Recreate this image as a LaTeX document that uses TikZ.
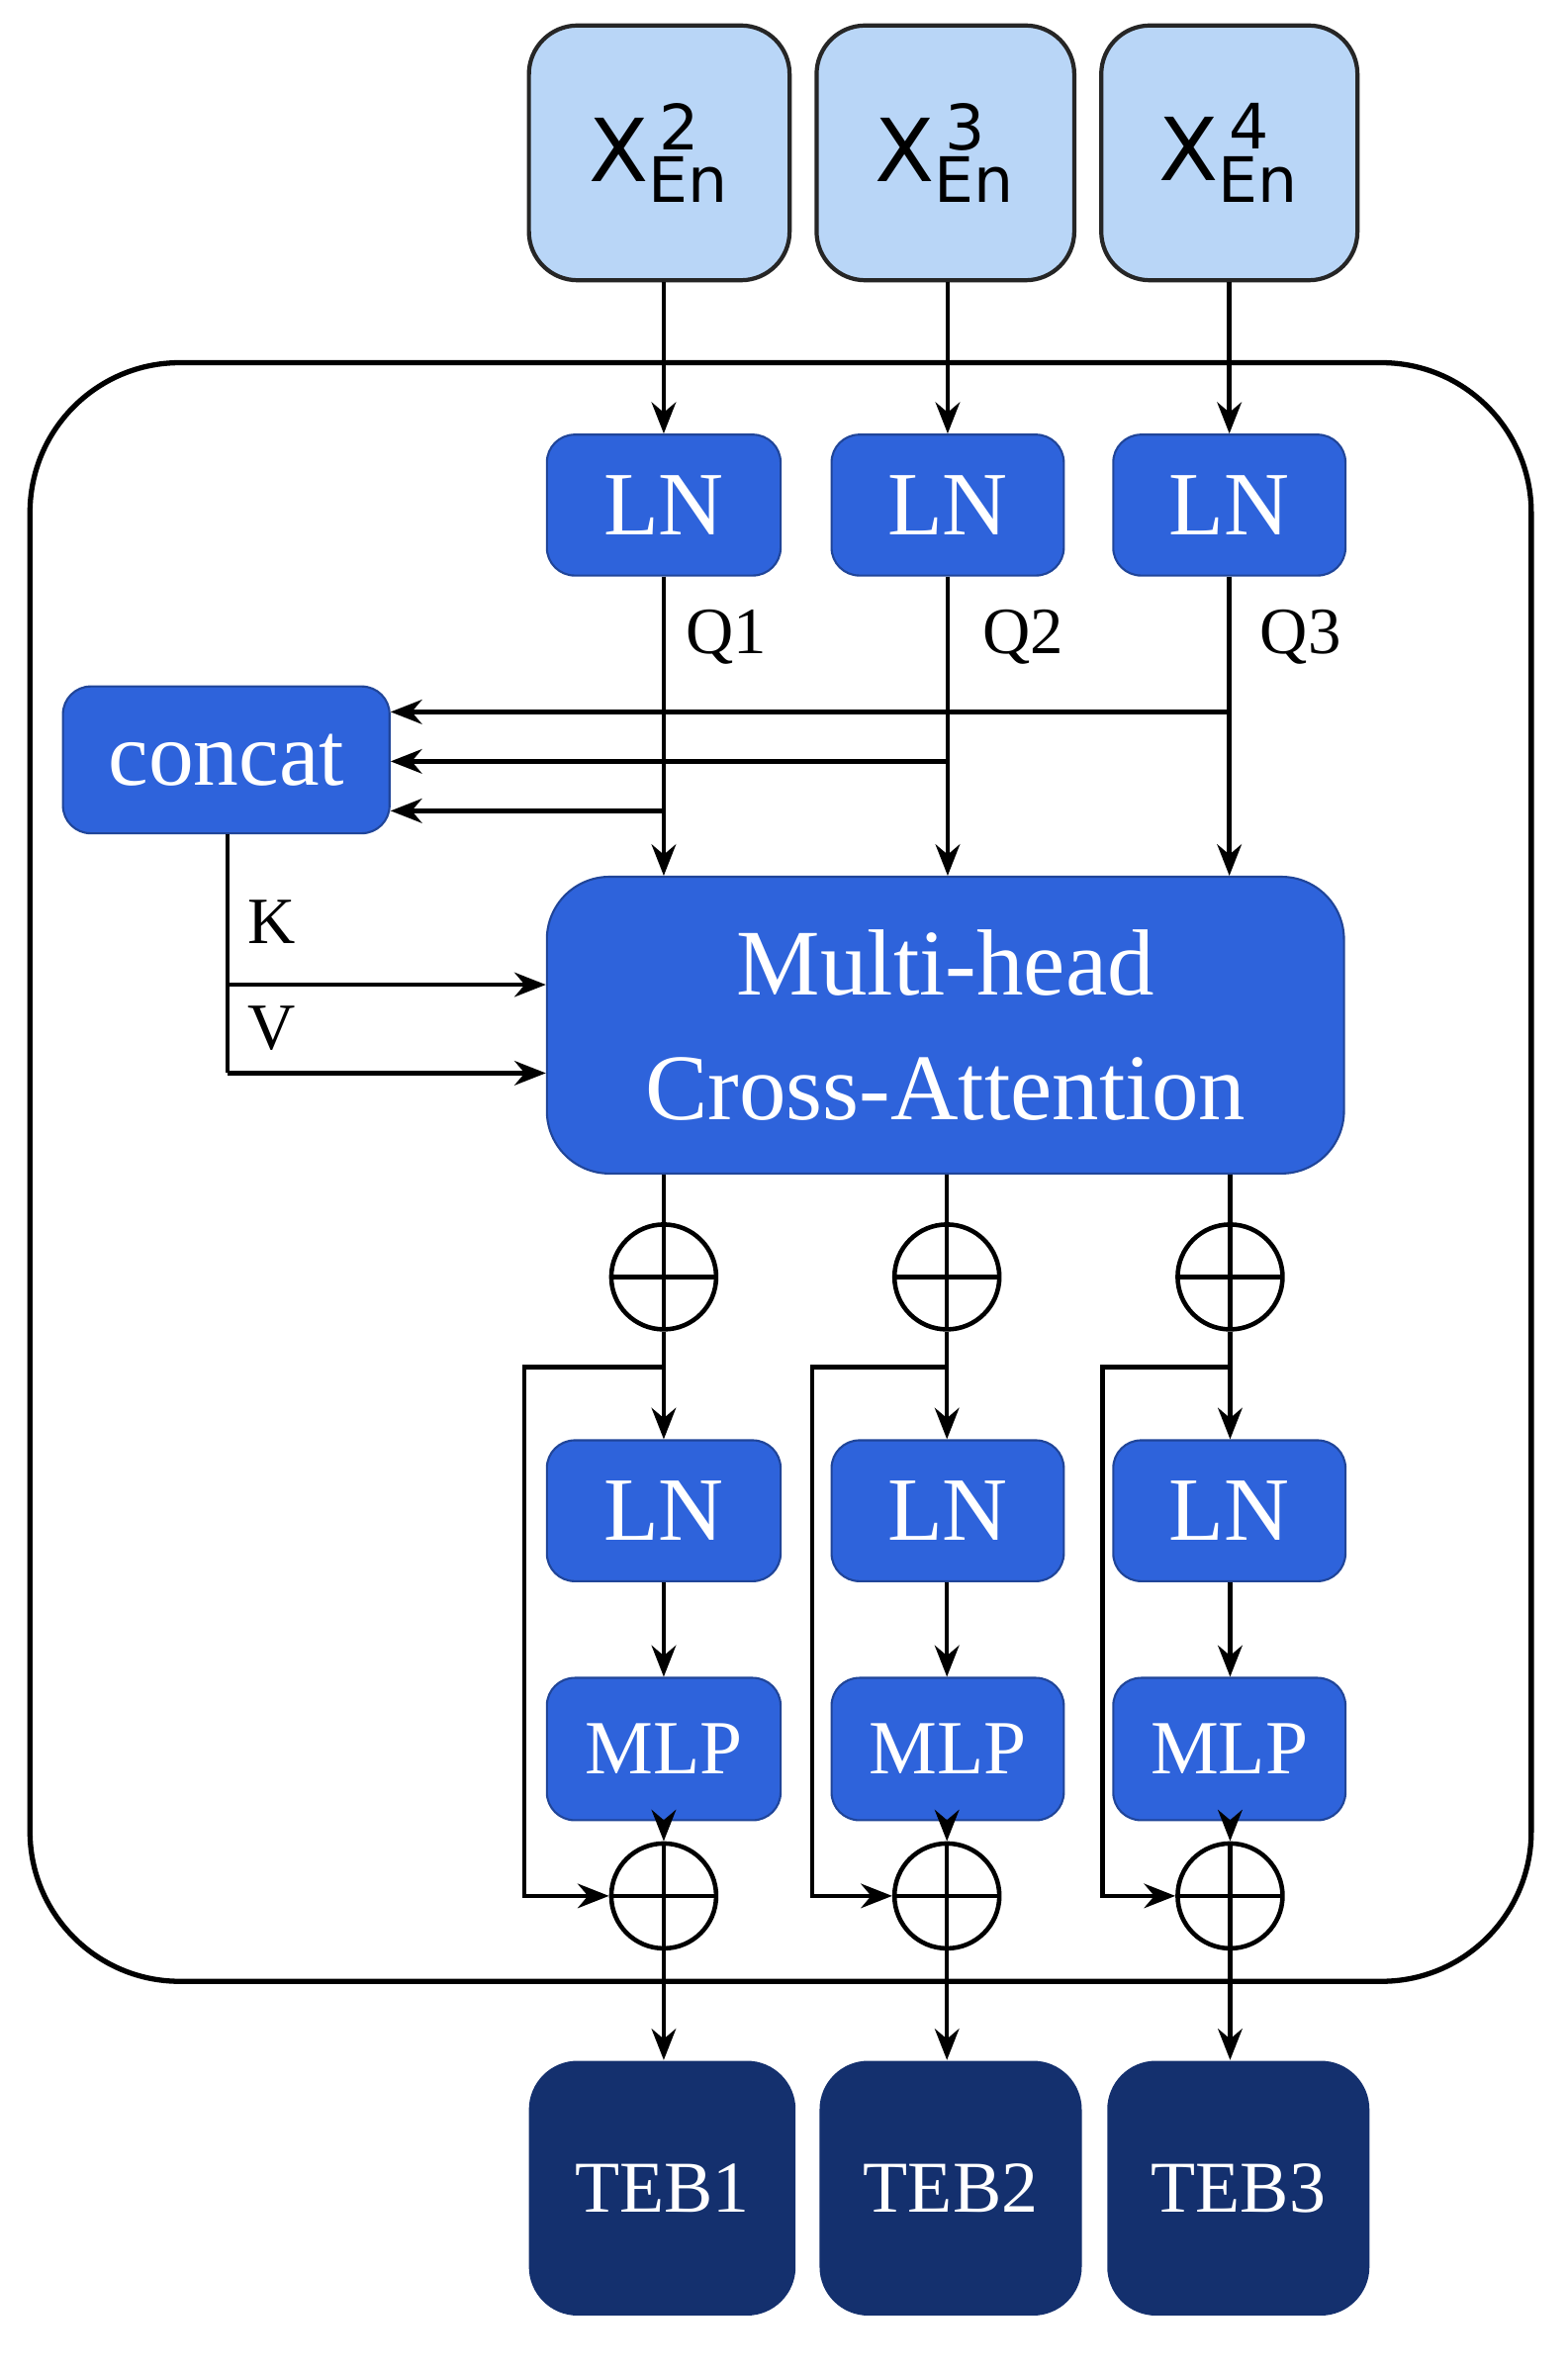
\documentclass[tikz,border=0pt]{standalone}
\usepackage{fontspec}
\setmainfont{Liberation Serif}
\newfontfamily\xsans{DejaVu Sans}
\usetikzlibrary{arrows.meta}
\definecolor{lb}{HTML}{B9D6F7}
\definecolor{bb}{HTML}{2E63DB}
\definecolor{nv}{HTML}{14306E}
\begin{document}
\begin{tikzpicture}[x=0.015143cm,y=-0.015143cm,
  inp/.style={draw=black!85,line width=1.2pt,fill=lb,rounded corners=14pt,inner sep=0},
  blk/.style={fill=bb,draw=bb!70!black,line width=0.6pt,rounded corners=8pt,text=white,font=\fontsize{26}{30}\selectfont,inner sep=0},
  teb/.style={fill=nv,rounded corners=14pt,text=white,font=\fontsize{21}{24}\selectfont,inner sep=0},
  pl/.style={draw,line width=1.3pt,circle,minimum size=70*0.015143cm,inner sep=0,
    path picture={\draw[line width=1.3pt] (path picture bounding box.north)--(path picture bounding box.south) (path picture bounding box.west)--(path picture bounding box.east);}},
  ar/.style={-{Stealth[length=9pt,width=7pt]},line width=1.3pt},
  ln/.style={line width=1.3pt},
  lab/.style={font=\fontsize{19}{22}\selectfont}]
\useasboundingbox (0,0) rectangle (1046,1582);
\draw[line width=1.5pt,rounded corners=100*0.015143cm] (20,242) rectangle (1022,1322);
% inputs
\foreach \n/\xa/\xb/\s in {x2/353/527/2,x3/545/717/3,x4/735/906/4}{
  \node[inp,minimum width={(\xb-\xa)*0.015143cm},minimum height={170*0.015143cm}] (\n) at ({(\xa+\xb)/2},102) {\xsans\fontsize{25}{30}\selectfont X$^{\mbox{\xsans\fontsize{18}{20}\selectfont\,\s}}_{\mbox{\xsans\fontsize{18}{20}\selectfont En}}$};
}
% blue columns
\foreach \i/\xa/\xb in {1/365/521,2/555/710,3/743/898}{
  \node[blk,minimum width={(\xb-\xa)*0.015143cm},minimum height={94*0.015143cm}] (lt\i) at ({(\xa+\xb)/2},337) {LN};
  \node[blk,minimum width={(\xb-\xa)*0.015143cm},minimum height={94*0.015143cm}] (lb\i) at ({(\xa+\xb)/2},1008) {LN};
  \node[blk,minimum width={(\xb-\xa)*0.015143cm},minimum height={95*0.015143cm},font=\fontsize{22}{26}\selectfont] (m\i) at ({(\xa+\xb)/2},1167) {MLP};
}
\node[blk,minimum width={218*0.015143cm},minimum height={98*0.015143cm}] (cc) at (151,507) {concat};
\node[blk,rounded corners=18pt,minimum width={532*0.015143cm},minimum height={198*0.015143cm},align=center,font=\fontsize{27}{36}\selectfont] (mh) at (631,684) {Multi-head\\Cross-Attention};
\foreach \i/\x in {1/443,2/632,3/821}{
  \node[pl] (pa\i) at (\x,852) {};
  \node[pl] (pb\i) at (\x,1265) {};
}
\foreach \i/\xa/\xb/\t in {1/353/531/TEB1,2/547/722/TEB2,3/739/914/TEB3}{
  \node[teb,minimum width={(\xb-\xa)*0.015143cm},minimum height={170*0.015143cm}] (t\i) at ({(\xa+\xb)/2},1460) {\t};
}
% arrows top
\draw[ar] (x2.south -| lt1.north) -- (lt1.north);
\draw[ar] (x3.south -| lt2.north) -- (lt2.north);
\draw[ar] (x4.south -| lt3.north) -- (lt3.north);
\foreach \i in {1,2,3}{
  \draw[ar] (lt\i.south) -- (lt\i.south |- mh.north);
  \draw[ln] (mh.south -| pa\i) -- (pa\i.north);
  \draw[ar] (pa\i.south) -- (pa\i.south |- lb\i.north);
  \draw[ar] (pa\i.south |- lb\i.south) -- (pa\i.south |- m\i.north);
  \draw[ar] (pb\i.north |- m\i.south) -- (pb\i.north);
  \draw[ar] (pb\i.south) -- (pb\i.south |- t\i.north);
}
\node[lab] at (485,425) {Q1};
\node[lab] at (683,425) {Q2};
\node[lab] at (868,425) {Q3};
\coordinate (c3) at (821,475);
\coordinate (c2) at (632,508);
\coordinate (c1) at (443,541);
\draw[ar] (c3) -- (cc.east |- c3);
\draw[ar] (c2) -- (cc.east |- c2);
\draw[ar] (c1) -- (cc.east |- c1);
% K V
\coordinate (kv0) at (152,716);
\coordinate (kb) at (152,657);
\draw[ln] (cc.south -| kv0) -- (kv0);
\draw[ar] (kb) -- (mh.west |- kb);
\draw[ar] (kv0) -- (mh.west |- kv0);
\node[lab] at (181,615) {K};
\node[lab] at (181,686) {V};
% skips
\foreach \i/\xs in {1/350,2/542,3/736}{
  \coordinate (s\i) at (\xs,912);
  \draw[ar] (pa\i |- s\i) -- (s\i) -- (s\i |- pb\i) -- (pb\i.west);
}
\end{tikzpicture}
\end{document}
